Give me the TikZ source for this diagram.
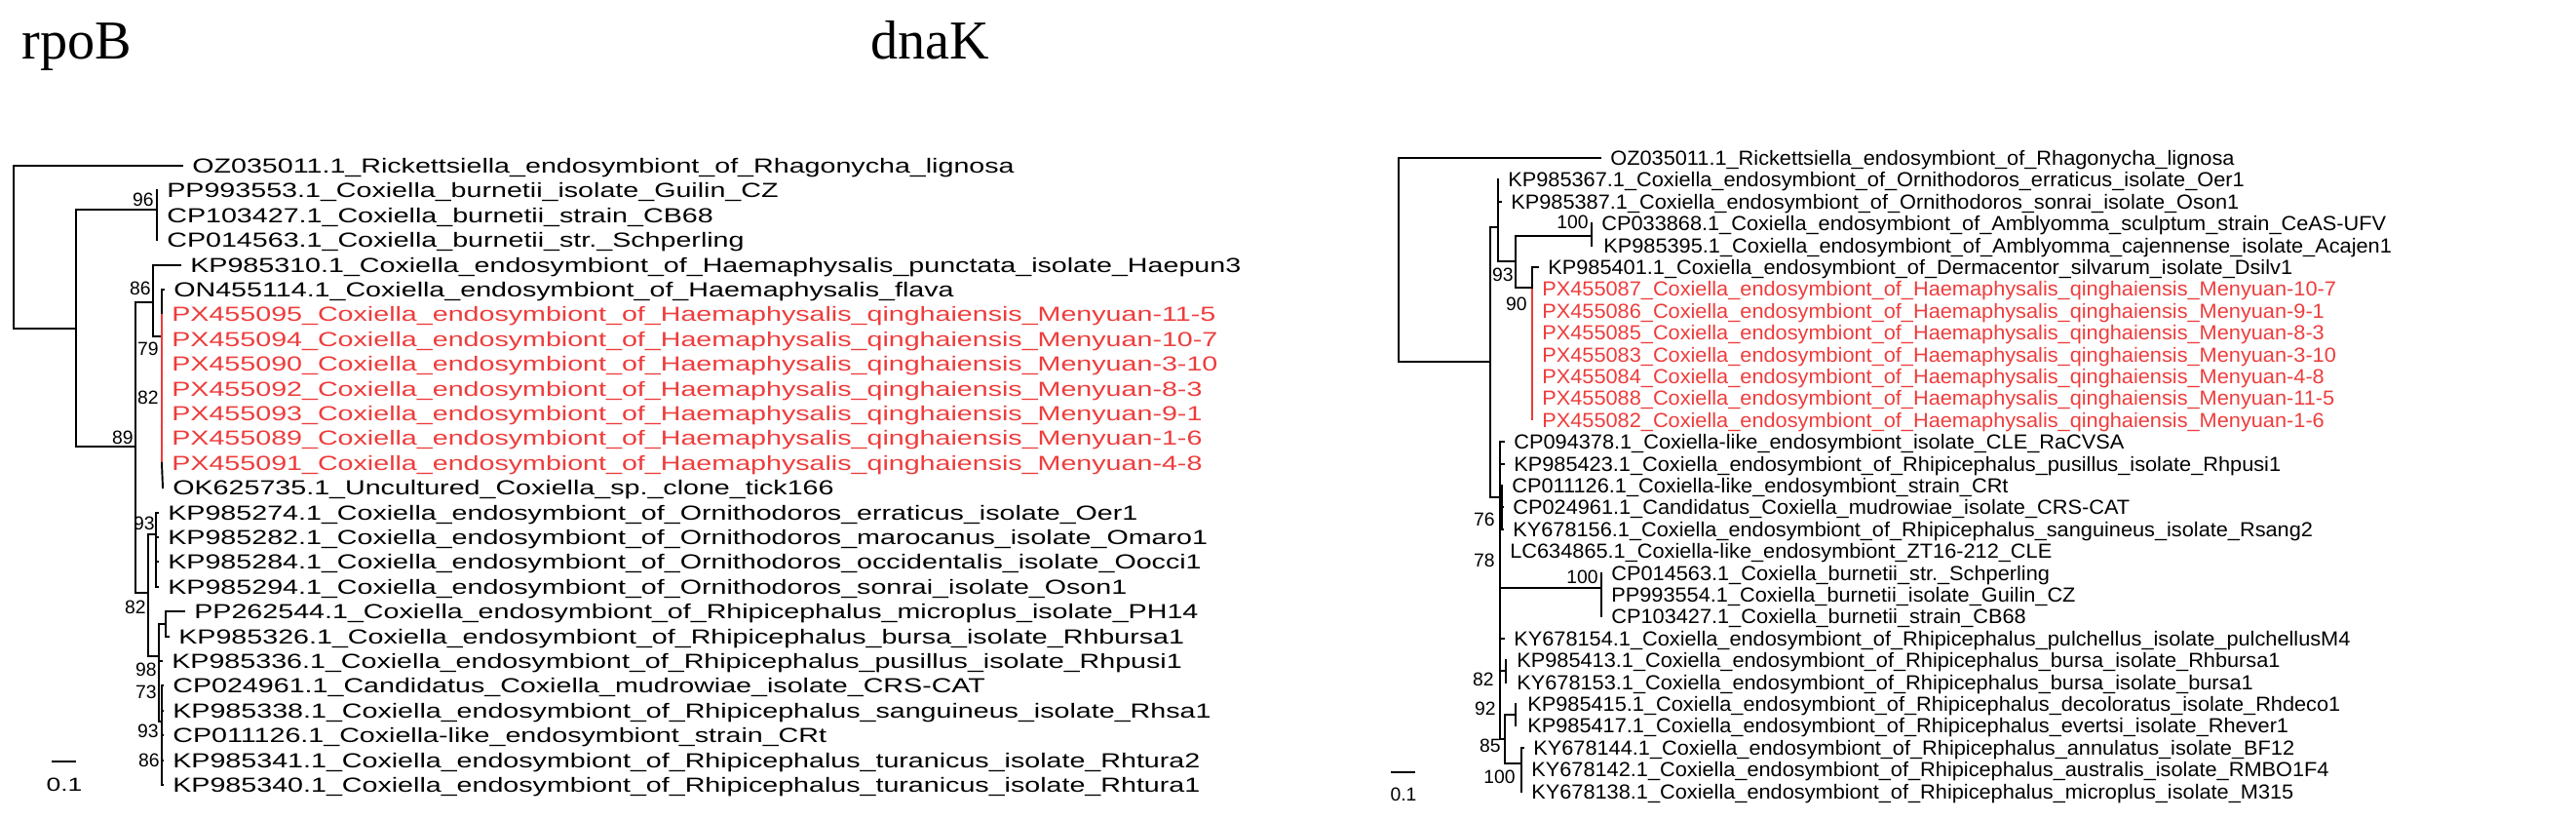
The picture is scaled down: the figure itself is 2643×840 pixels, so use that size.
\documentclass[tikz,border=0pt]{standalone}
\usepackage{fontspec}
\setmainfont{Liberation Sans}
\newfontfamily\titlefont{Liberation Serif}
\definecolor{tred}{RGB}{238,60,60}
\newcommand{\rl}[1]{\scalebox{1.37}[1]{#1}}
\newcommand{\dl}[1]{\scalebox{1.04}[1]{#1}}
\begin{document}
\catcode`\_=12
\begin{tikzpicture}[x=0.02cm,y=-0.02cm,
  br/.style={line width=1.1pt,line cap=rect},
  rbr/.style={line width=1.6pt,tred},
  leaf/.style={anchor=west,inner xsep=0.2cm,inner ysep=0pt,text height=0.3cm,text depth=0pt,font=\fontsize{11.9}{12}\selectfont},
  rleaf/.style={leaf,text=tred},
  bs/.style={anchor=east,inner sep=0pt,font=\fontsize{11}{12}\selectfont},
  ttl/.style={anchor=base west,inner sep=0pt,font=\titlefont\fontsize{32}{34}\selectfont}]
\useasboundingbox (0,0) rectangle (2643,840);
% ---------------- rpoB ----------------
\node[ttl] (t1) at (22,60) {rpoB};
\node[leaf] (r0) at (187,170) {\rl{OZ035011.1_Rickettsiella_endosymbiont_of_Rhagonycha_lignosa}};
\node[leaf] (r1) at (161,195.4) {\rl{PP993553.1_Coxiella_burnetii_isolate_Guilin_CZ}};
\node[leaf] (r2) at (161,220.8) {\rl{CP103427.1_Coxiella_burnetii_strain_CB68}};
\node[leaf] (r3) at (161,246.2) {\rl{CP014563.1_Coxiella_burnetii_str._Schperling}};
\node[leaf] (r4) at (185,271.6) {\rl{KP985310.1_Coxiella_endosymbiont_of_Haemaphysalis_punctata_isolate_Haepun3}};
\node[leaf] (r5) at (168,297) {\rl{ON455114.1_Coxiella_endosymbiont_of_Haemaphysalis_flava}};
\node[rleaf] (r6) at (166,322.4) {\rl{PX455095_Coxiella_endosymbiont_of_Haemaphysalis_qinghaiensis_Menyuan-11-5}};
\node[rleaf] (r7) at (166,347.8) {\rl{PX455094_Coxiella_endosymbiont_of_Haemaphysalis_qinghaiensis_Menyuan-10-7}};
\node[rleaf] (r8) at (166,373.2) {\rl{PX455090_Coxiella_endosymbiont_of_Haemaphysalis_qinghaiensis_Menyuan-3-10}};
\node[rleaf] (r9) at (166,398.6) {\rl{PX455092_Coxiella_endosymbiont_of_Haemaphysalis_qinghaiensis_Menyuan-8-3}};
\node[rleaf] (r10) at (166,424) {\rl{PX455093_Coxiella_endosymbiont_of_Haemaphysalis_qinghaiensis_Menyuan-9-1}};
\node[rleaf] (r11) at (166,449.4) {\rl{PX455089_Coxiella_endosymbiont_of_Haemaphysalis_qinghaiensis_Menyuan-1-6}};
\node[rleaf] (r12) at (166,474.8) {\rl{PX455091_Coxiella_endosymbiont_of_Haemaphysalis_qinghaiensis_Menyuan-4-8}};
\node[leaf] (r13) at (167,500.2) {\rl{OK625735.1_Uncultured_Coxiella_sp._clone_tick166}};
\node[leaf] (r14) at (162,525.6) {\rl{KP985274.1_Coxiella_endosymbiont_of_Ornithodoros_erraticus_isolate_Oer1}};
\node[leaf] (r15) at (162,551) {\rl{KP985282.1_Coxiella_endosymbiont_of_Ornithodoros_marocanus_isolate_Omaro1}};
\node[leaf] (r16) at (162,576.4) {\rl{KP985284.1_Coxiella_endosymbiont_of_Ornithodoros_occidentalis_isolate_Oocci1}};
\node[leaf] (r17) at (162,601.8) {\rl{KP985294.1_Coxiella_endosymbiont_of_Ornithodoros_sonrai_isolate_Oson1}};
\node[leaf] (r18) at (189,627.2) {\rl{PP262544.1_Coxiella_endosymbiont_of_Rhipicephalus_microplus_isolate_PH14}};
\node[leaf] (r19) at (173,652.6) {\rl{KP985326.1_Coxiella_endosymbiont_of_Rhipicephalus_bursa_isolate_Rhbursa1}};
\node[leaf] (r20) at (166,678) {\rl{KP985336.1_Coxiella_endosymbiont_of_Rhipicephalus_pusillus_isolate_Rhpusi1}};
\node[leaf] (r21) at (167,703.4) {\rl{CP024961.1_Candidatus_Coxiella_mudrowiae_isolate_CRS-CAT}};
\node[leaf] (r22) at (167,728.8) {\rl{KP985338.1_Coxiella_endosymbiont_of_Rhipicephalus_sanguineus_isolate_Rhsa1}};
\node[leaf] (r23) at (167,754.2) {\rl{CP011126.1_Coxiella-like_endosymbiont_strain_CRt}};
\node[leaf] (r24) at (167,779.6) {\rl{KP985341.1_Coxiella_endosymbiont_of_Rhipicephalus_turanicus_isolate_Rhtura2}};
\node[leaf] (r25) at (167,805) {\rl{KP985340.1_Coxiella_endosymbiont_of_Rhipicephalus_turanicus_isolate_Rhtura1}};
\coordinate (rR) at (14,337);
\coordinate (rA) at (78,458);
\draw[br] (r0.west) -| (rR) -- (rA |- rR);
\draw[br] (78,215) -- (rA) -- (139,458);
\draw[br] (78,215) -- (161,215);
\draw[br] (r1.west) -- (r3.west);
\draw[br] (139,310) -- (139,608);
\draw[br] (139,310) -- (157,310);
\draw[br] (r4.west) -| (157,345) -- (166,345);
\draw[br] (166,297) -- (166,322.4) (r5.west) -- (166,297);
\draw[rbr] (166,322.4) -- (166,474.8);
\draw[br] (166,474.8) -- (r13.west);
\draw[br] (139,608) -- (152,608);
\draw[br] (152,548) -- (152,673);
\draw[br] (152,548) -- (160,548);
\draw[br] (160,525.6) -- (160,601.8);
\foreach \i in {14,15,16,17} \draw[br] (160,0 |- r\i.west) -- (r\i.west);
\draw[br] (152,673) -- (163,673);
\draw[br] (163,640) -- (163,740);
\draw[br] (163,640) -- (170,640);
\draw[br] (r18.west) -| (r19.west -| 170,0) -- (r19.west);
\draw[br] (163,678) -- (r20.west);
\draw[br] (163,740) -- (166,740);
\draw[br] (166,703.4) -- (166,805);
\foreach \i in {21,...,25} \draw[br] (166,0 |- r\i.west) -- (r\i.west);
\node[bs] (b1) at (158,205) {96};
\node[bs] (b2) at (155,296) {86};
\node[bs] (b3) at (137,449) {89};
\node[bs] (b4) at (163,358) {79};
\node[bs] (b5) at (163,408) {82};
\node[bs] (b6) at (159,537) {93};
\node[bs] (b7) at (150,623) {82};
\node[bs] (b8) at (161,687) {98};
\node[bs] (b9) at (161,710) {73};
\node[bs] (b10) at (163,750) {93};
\node[bs] (b11) at (164,780) {86};
\coordinate (s1a) at (53,781);
\coordinate (s1b) at (78,781);
\draw[br,line cap=butt] (s1a) -- (s1b);
\node[inner sep=0pt,font=\fontsize{11}{12}\selectfont] (s1t) at (66,805) {\rl{0.1}};
% ---------------- dnaK ----------------
\node[ttl] (t2) at (893,60) {dnaK};
\node[leaf] (d0) at (1642,162) {\dl{OZ035011.1_Rickettsiella_endosymbiont_of_Rhagonycha_lignosa}};
\node[leaf] (d1) at (1537,184.4) {\dl{KP985367.1_Coxiella_endosymbiont_of_Ornithodoros_erraticus_isolate_Oer1}};
\node[leaf] (d2) at (1540,206.8) {\dl{KP985387.1_Coxiella_endosymbiont_of_Ornithodoros_sonrai_isolate_Oson1}};
\node[leaf] (d3) at (1633,229.2) {\dl{CP033868.1_Coxiella_endosymbiont_of_Amblyomma_sculptum_strain_CeAS-UFV}};
\node[leaf] (d4) at (1635,251.6) {\dl{KP985395.1_Coxiella_endosymbiont_of_Amblyomma_cajennense_isolate_Acajen1}};
\node[leaf] (d5) at (1578,274) {\dl{KP985401.1_Coxiella_endosymbiont_of_Dermacentor_silvarum_isolate_Dsilv1}};
\node[rleaf] (d6) at (1572,296.4) {\dl{PX455087_Coxiella_endosymbiont_of_Haemaphysalis_qinghaiensis_Menyuan-10-7}};
\node[rleaf] (d7) at (1572,318.8) {\dl{PX455086_Coxiella_endosymbiont_of_Haemaphysalis_qinghaiensis_Menyuan-9-1}};
\node[rleaf] (d8) at (1572,341.2) {\dl{PX455085_Coxiella_endosymbiont_of_Haemaphysalis_qinghaiensis_Menyuan-8-3}};
\node[rleaf] (d9) at (1572,363.6) {\dl{PX455083_Coxiella_endosymbiont_of_Haemaphysalis_qinghaiensis_Menyuan-3-10}};
\node[rleaf] (d10) at (1572,386) {\dl{PX455084_Coxiella_endosymbiont_of_Haemaphysalis_qinghaiensis_Menyuan-4-8}};
\node[rleaf] (d11) at (1572,408.4) {\dl{PX455088_Coxiella_endosymbiont_of_Haemaphysalis_qinghaiensis_Menyuan-11-5}};
\node[rleaf] (d12) at (1572,430.8) {\dl{PX455082_Coxiella_endosymbiont_of_Haemaphysalis_qinghaiensis_Menyuan-1-6}};
\node[leaf] (d13) at (1543,453.2) {\dl{CP094378.1_Coxiella-like_endosymbiont_isolate_CLE_RaCVSA}};
\node[leaf] (d14) at (1543,475.6) {\dl{KP985423.1_Coxiella_endosymbiont_of_Rhipicephalus_pusillus_isolate_Rhpusi1}};
\node[leaf] (d15) at (1541,498) {\dl{CP011126.1_Coxiella-like_endosymbiont_strain_CRt}};
\node[leaf] (d16) at (1542,520.4) {\dl{CP024961.1_Candidatus_Coxiella_mudrowiae_isolate_CRS-CAT}};
\node[leaf] (d17) at (1542,542.8) {\dl{KY678156.1_Coxiella_endosymbiont_of_Rhipicephalus_sanguineus_isolate_Rsang2}};
\node[leaf] (d18) at (1539,565.2) {\dl{LC634865.1_Coxiella-like_endosymbiont_ZT16-212_CLE}};
\node[leaf] (d19) at (1643,587.6) {\dl{CP014563.1_Coxiella_burnetii_str._Schperling}};
\node[leaf] (d20) at (1643,610) {\dl{PP993554.1_Coxiella_burnetii_isolate_Guilin_CZ}};
\node[leaf] (d21) at (1643,632.4) {\dl{CP103427.1_Coxiella_burnetii_strain_CB68}};
\node[leaf] (d22) at (1543,654.8) {\dl{KY678154.1_Coxiella_endosymbiont_of_Rhipicephalus_pulchellus_isolate_pulchellusM4}};
\node[leaf] (d23) at (1546,677.2) {\dl{KP985413.1_Coxiella_endosymbiont_of_Rhipicephalus_bursa_isolate_Rhbursa1}};
\node[leaf] (d24) at (1546,699.6) {\dl{KY678153.1_Coxiella_endosymbiont_of_Rhipicephalus_bursa_isolate_bursa1}};
\node[leaf] (d25) at (1557,722) {\dl{KP985415.1_Coxiella_endosymbiont_of_Rhipicephalus_decoloratus_isolate_Rhdeco1}};
\node[leaf] (d26) at (1557,744.4) {\dl{KP985417.1_Coxiella_endosymbiont_of_Rhipicephalus_evertsi_isolate_Rhever1}};
\node[leaf] (d27) at (1563,766.8) {\dl{KY678144.1_Coxiella_endosymbiont_of_Rhipicephalus_annulatus_isolate_BF12}};
\node[leaf] (d28) at (1561,789.2) {\dl{KY678142.1_Coxiella_endosymbiont_of_Rhipicephalus_australis_isolate_RMBO1F4}};
\node[leaf] (d29) at (1561,811.6) {\dl{KY678138.1_Coxiella_endosymbiont_of_Rhipicephalus_microplus_isolate_M315}};
\coordinate (dR) at (1435,371);
\draw[br] (d0.west) -| (dR) -- (1529,371);
\draw[br] (1529,233) -- (1529,510);
\draw[br] (1529,233) -- (1537,233);
\draw[br] (d1.west) -- (1537,268) -- (1555,268);
\draw[br] (1537,206.8) -- (d2.west);
\draw[br] (1555,242) -- (1555,295);
\draw[br] (1555,242) -- (1633,242);
\draw[br] (d3.west) -- (1633,251.6);
\draw[br] (1555,295) -- (1572,295);
\draw[br] (1572,274) -- (1572,296.4);
\draw[br] (1572,274) -- (d5.west);
\draw[rbr] (1572,296.4) -- (1572,430.8);
\draw[br] (1529,510) -- (1539,510);
\draw[br] (1539,453.2) -- (1539,758);
\draw[br] (1539,453.2) -- (d13.west);
\draw[br] (1539,475.6) -- (d14.west);
\draw[br] (1541,498) -- (1541,542.8);
\draw[br] (1541,520.4) -- (d16.west);
\draw[br] (1541,542.8) -- (d17.west);
\draw[br] (1539,603) -- (1643,603);
\draw[br] (d19.west) -- (d21.west);
\draw[br] (1539,654.8) -- (d22.west);
\draw[br] (1539,688) -- (1545,688);
\draw[br] (1545,677.2) -- (1545,699.6);
\draw[br] (1539,758) -- (1544,758);
\draw[br] (1544,733) -- (1544,783);
\draw[br] (1544,733) -- (1555,733);
\draw[br] (1555,722) -- (1555,744.4);
\draw[br] (1544,783) -- (1561,783);
\draw[br] (1561,766.8) -- (1561,811.6);
\draw[br] (1561,766.8) -- (d27.west);
\node[bs] (e1) at (1630,228) {100};
\node[bs] (e2) at (1553,282) {93};
\node[bs] (e3) at (1567,312) {90};
\node[bs] (e4) at (1534,533) {76};
\node[bs] (e5) at (1534,575) {78};
\node[bs] (e6) at (1640,592) {100};
\node[bs] (e7) at (1533,697) {82};
\node[bs] (e8) at (1535,727) {92};
\node[bs] (e9) at (1540,765) {85};
\node[bs] (e10) at (1555,797) {100};
\coordinate (s2a) at (1427,792);
\coordinate (s2b) at (1452,792);
\draw[br,line cap=butt] (s2a) -- (s2b);
\node[inner sep=0pt,font=\fontsize{11}{12}\selectfont] (s2t) at (1440,815) {0.1};
\end{tikzpicture}
\end{document}
